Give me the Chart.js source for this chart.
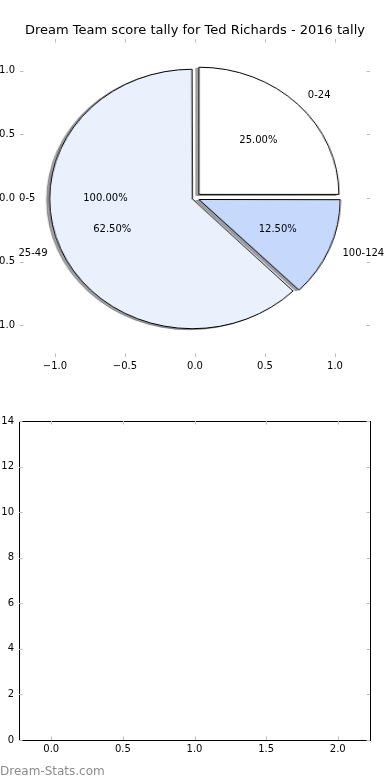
<!DOCTYPE html>
<html>
<head>
<meta charset="utf-8">
<script src="https://cdn.jsdelivr.net/npm/chart.js@4/dist/chart.umd.min.js"></script>
<style>
  html, body { margin: 0; padding: 0; background: #fff; }
  #wrap { position: relative; width: 390px; height: 780px; overflow: hidden; }
  #wrap canvas { position: absolute; }
  #credit { position: absolute; left: 0; top: 765px; font: 12px "DejaVu Sans"; line-height: 12px; color: #8c8c8c; }
</style>
</head>
<body>
<div id="wrap">
  <canvas id="pieShadow" width="300" height="300"></canvas>
  <canvas id="pie" width="300" height="300"></canvas>
  <canvas id="pieAxes" width="390" height="390" style="left:0;top:0"></canvas>
  <canvas id="emptyAxes" width="390" height="390" style="left:0;top:390px"></canvas>
  <div id="credit">Dream-Stats.com</div>
</div>
<script>
const chartTitle = "Dream Team score tally for Ted Richards - 2016 tally"
const sliceLabels = ["0-24", "100-124", "25-49"]
const sliceValues = [2, 1, 5]
const sliceColors = ["#ffffff", "#c6d9fd", "#eaf1fd"]
// single wedge left over underneath the pie, only its labels show
const ghostLabels = ["0-5"]
const ghostValues = [1]
const pieTicks = [-1, -0.5, 0, 0.5, 1]
const emptyXTicks = [0, 0.5, 1, 1.5, 2]
const emptyYTicks = [0, 2, 4, 6, 8, 10, 12, 14]

const explode = 0.04
const shadowShiftX = 0.018
const shadowShiftY = 0.01

Chart.defaults.font.family = "'DejaVu Sans'"
Chart.defaults.font.size = 10
Chart.defaults.color = "#000"

const oneDec = (v) => (v < 0 ? "\u2212" : "") + Math.abs(v).toFixed(1)

function axis(position, min, max, ticks, showLabels, fmt, size, border) {
  return {
    type: "linear",
    position: position,
    min: min,
    max: max,
    afterBuildTicks: (s) => { s.ticks = ticks.map((v) => ({ value: v })) },
    afterFit: (s) => { if (s.isHorizontal()) s.height = size; else s.width = size },
    grid: { display: false, drawTicks: false },
    border: { display: border, color: "#000", width: 1 },
    ticks: { display: showLabels, padding: position === "left" ? 5 : 3, callback: fmt, maxRotation: 0, autoSkip: false },
  }
}

const tickMarks = {
  id: "tickMarks",
  afterDraw(chart) {
    const ctx = chart.ctx
    const a = chart.chartArea
    ctx.save()
    ctx.strokeStyle = "#bdbdbd"
    ctx.lineWidth = 1
    Object.values(chart.scales).forEach((s) => {
      s.ticks.forEach((t) => {
        const p = Math.round(s.getPixelForValue(t.value)) + 0.5
        ctx.beginPath()
        if (s.isHorizontal()) {
          const y0 = s.position === "top" ? a.top : a.bottom
          ctx.moveTo(p, y0)
          ctx.lineTo(p, y0 + (s.position === "top" ? 3.5 : -3.5))
        } else {
          const x0 = s.position === "left" ? a.left : a.right
          ctx.moveTo(x0, p)
          ctx.lineTo(x0 + (s.position === "left" ? 3.5 : -3.5), p)
        }
        ctx.stroke()
      })
    })
    ctx.restore()
  },
}

const pieText = {
  id: "pieText",
  afterDraw(chart) {
    const { ctx, scales: { x, y } } = chart
    ctx.save()
    ctx.font = "10px 'DejaVu Sans'"
    ctx.fillStyle = "#000"
    ctx.textBaseline = "middle"
    const put = (labels, values, startDeg, dir) => {
      const total = values.reduce((a, b) => a + b, 0)
      let cum = 0
      labels.forEach((lab, i) => {
        const mid = (startDeg + dir * 360 * (cum + values[i] / 2) / total) * Math.PI / 180
        cum += values[i]
        const c = Math.cos(mid)
        const s = Math.sin(mid)
        const lx = (explode + 1.1) * c
        ctx.textAlign = lx > 0 ? "left" : "right"
        ctx.fillText(lab, x.getPixelForValue(lx), y.getPixelForValue((explode + 1.1) * s))
        ctx.textAlign = "center"
        ctx.fillText((100 * values[i] / total).toFixed(2) + "%",
          x.getPixelForValue((explode + 0.6) * c), y.getPixelForValue((explode + 0.6) * s))
      })
    }
    put(ghostLabels, ghostValues, 0, 1)
    put(sliceLabels, sliceValues, 90, -1)
    ctx.restore()
  },
}

const pieAxes = new Chart(document.getElementById("pieAxes"), {
  type: "scatter",
  data: { datasets: [{ data: [] }] },
  options: {
    responsive: false,
    animation: false,
    events: [],
    layout: { padding: 0 },
    plugins: {
      legend: { display: false },
      tooltip: { enabled: false },
      title: { display: true, text: chartTitle, font: { size: 13, weight: "normal" }, padding: { top: 23, bottom: 0 } },
    },
    scales: {
      x: axis("bottom", -1.25, 1.25, pieTicks, true, oneDec, 33, false),
      x2: axis("top", -1.25, 1.25, pieTicks, false, oneDec, 0.4, false),
      y: axis("left", -1.25, 1.25, pieTicks, true, oneDec, 20, false),
      y2: axis("right", -1.25, 1.25, pieTicks, false, oneDec, 20, false),
    },
  },
  plugins: [tickMarks, pieText],
})

// pie sits on the axes above: centre (0,0), radius 1 in data units
const xs = pieAxes.scales.x
const ys = pieAxes.scales.y
const cx = xs.getPixelForValue(0)
const cy = ys.getPixelForValue(0)
const rx = xs.getPixelForValue(1) - cx
const ry = cy - ys.getPixelForValue(1)
const total = sliceValues.reduce((a, b) => a + b, 0)

// chart.js moves an arc by offset/4 * (2 - sin(circumference))
const offsets = sliceValues.map((v) => {
  const circ = 2 * Math.PI * v / total
  const fix = 1 - Math.sin(Math.min(Math.PI, circ))
  return explode * ry * 4 / (1 + fix)
})

function shade(hex) {
  const n = parseInt(hex.slice(1), 16)
  const r = Math.round(0.3 * (n >> 16))
  const g = Math.round(0.3 * ((n >> 8) & 255))
  const b = Math.round(0.3 * (n & 255))
  return `rgba(${r},${g},${b},0.5)`
}

function placePie(id, dx, dy) {
  const el = document.getElementById(id)
  el.style.left = (cx - 150 + dx) + "px"
  el.style.top = (cy - 150 + dy) + "px"
  el.style.transformOrigin = "150px 150px"
  el.style.transform = `scaleX(${rx / ry})`
  return el
}

function pieOptions() {
  return {
    responsive: false,
    animation: false,
    events: [],
    layout: { padding: 0 },
    radius: ry,
    plugins: { legend: { display: false }, tooltip: { enabled: false } },
  }
}

new Chart(placePie("pieShadow", -shadowShiftX * rx, shadowShiftY * ry), {
  type: "pie",
  data: {
    labels: sliceLabels,
    datasets: [{
      data: sliceValues,
      backgroundColor: sliceColors.map(shade),
      borderColor: sliceColors.map(shade),
      borderWidth: 1,
      offset: offsets,
    }],
  },
  options: pieOptions(),
})

new Chart(placePie("pie", 0, 0), {
  type: "pie",
  data: {
    labels: sliceLabels,
    datasets: [{
      data: sliceValues,
      backgroundColor: sliceColors,
      borderColor: "#000",
      borderWidth: 1,
      offset: offsets,
    }],
  },
  options: pieOptions(),
})

new Chart(document.getElementById("emptyAxes"), {
  type: "scatter",
  data: { datasets: [{ data: [] }] },
  options: {
    responsive: false,
    animation: false,
    events: [],
    layout: { padding: 0 },
    plugins: { legend: { display: false }, tooltip: { enabled: false } },
    scales: {
      x: axis("bottom", -0.225, 2.225, emptyXTicks, true, (v) => v.toFixed(1), 40, true),
      x2: axis("top", -0.225, 2.225, emptyXTicks, false, (v) => v.toFixed(1), 31, true),
      y: axis("left", 0, 14, emptyYTicks, true, (v) => String(v), 19, true),
      y2: axis("right", 0, 14, emptyYTicks, false, (v) => String(v), 20, true),
    },
  },
  plugins: [tickMarks],
})
</script>
</body>
</html>
